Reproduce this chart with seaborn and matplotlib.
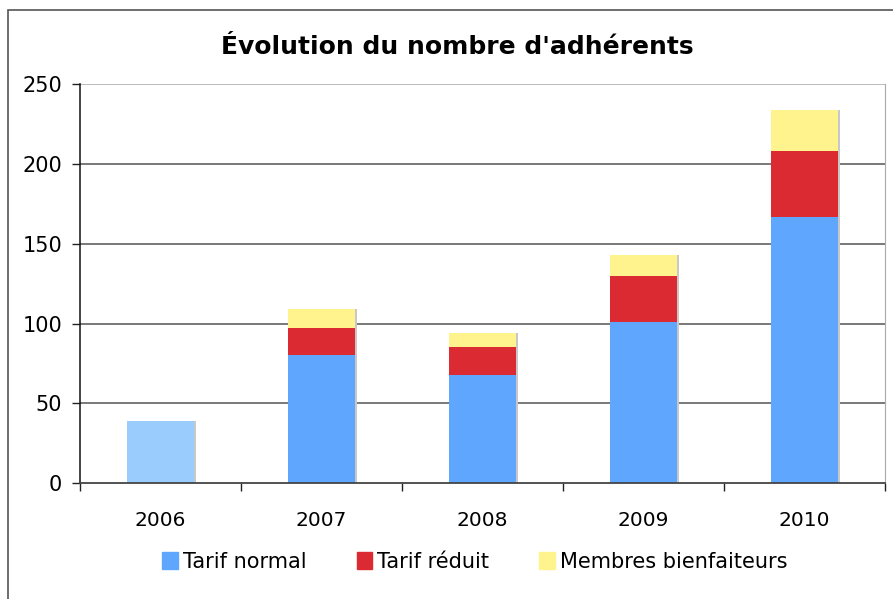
import numpy as np
import matplotlib.pyplot as plt
import matplotlib.patches as mpatches
from matplotlib.ticker import FixedLocator
import seaborn as sns

years = ["2006", "2007", "2008", "2009", "2010"]
tarif_normal = [39, 80, 68, 101, 167]
tarif_reduit = [0, 17, 17, 29, 41]
bienfaiteurs = [0, 12, 9, 13, 26]

blue = "#5fa6fe"
blue_2006 = "#9bccfe"
red = "#dc2a32"
yellow = "#fff38e"

normal = np.array(tarif_normal)
reduit_top = normal + np.array(tarif_reduit)
total = reduit_top + np.array(bienfaiteurs)

sns.set_style("white")
plt.rcParams["font.family"] = ["DejaVu Sans"]
plt.rcParams["text.color"] = "black"
plt.rcParams["xtick.color"] = "black"
plt.rcParams["ytick.color"] = "black"

fig = plt.figure(figsize=(8.93, 5.99), dpi=100)
ax = fig.add_axes([80 / 893, 1 - 483 / 599, 805 / 893, 398.7 / 599])

w = 0.41
# light shadow behind each stack
sns.barplot(x=years, y=total, color="#c8c8c8", saturation=1, width=w, ax=ax, zorder=1)
for p in ax.patches:
    p.set_x(p.get_x() + 0.014)
    p.set_linewidth(0)
n_shadow = len(ax.patches)

sns.barplot(x=years, y=total, color=yellow, saturation=1, width=w, ax=ax, zorder=2)
sns.barplot(x=years, y=reduit_top, color=red, saturation=1, width=w, ax=ax, zorder=2)
sns.barplot(x=years, y=normal, hue=years, palette=[blue_2006] + [blue] * 4,
            saturation=1, width=w, ax=ax, legend=False, zorder=2)
for p in ax.patches[n_shadow:]:
    p.set_linewidth(0)

ax.set_xlim(-0.5, 4.5)
ax.set_ylim(0, 250)
ax.set_yticks([0, 50, 100, 150, 200, 250])
for v in [50, 100, 150, 200]:
    ax.axhline(v, color="#555555", lw=1.1, zorder=0)
ax.axhline(250, color="#aaaaaa", lw=1.1, zorder=0)

ax.spines["left"].set_color("#111111")
ax.spines["bottom"].set_color("#444444")
ax.spines["left"].set_linewidth(1.1)
ax.spines["bottom"].set_linewidth(1.3)
ax.spines["right"].set_color("#aaaaaa")
ax.spines["top"].set_visible(False)

ax.xaxis.set_minor_locator(FixedLocator([-0.5, 0.5, 1.5, 2.5, 3.5, 4.5]))
ax.tick_params(axis="x", which="major", bottom=True, length=0, pad=20, labelsize=14.5)
ax.tick_params(axis="x", which="minor", bottom=True, length=6, width=1,
               color="#222222", direction="out")
ax.tick_params(axis="y", left=True, length=6, width=1, color="#222222", direction="out",
               labelsize=15, pad=7)
ax.set_xlabel("")
ax.set_ylabel("")

fig.text(457 / 893, 1 - 47 / 599, "Évolution du nombre d'adhérents",
         ha="center", va="center", fontsize=18, fontweight="bold")

handles = [mpatches.Patch(color=blue, label="Tarif normal"),
           mpatches.Patch(color=red, label="Tarif réduit"),
           mpatches.Patch(color=yellow, label="Membres bienfaiteurs")]
fig.legend(handles=handles, loc="center", bbox_to_anchor=(475 / 893, 1 - 562 / 599),
           ncol=3, frameon=False, fontsize=15, handlelength=0.75, handleheight=0.9,
           handletextpad=0.25, columnspacing=2.4)

# outer frame of the chart
fig.patches.append(mpatches.Rectangle((8 / 893, -0.1), 1.2, 1 - 10 / 599 + 0.1,
                                      transform=fig.transFigure, fill=False,
                                      edgecolor="#555555", lw=1.2))

fig.savefig("out.png", dpi=100)
